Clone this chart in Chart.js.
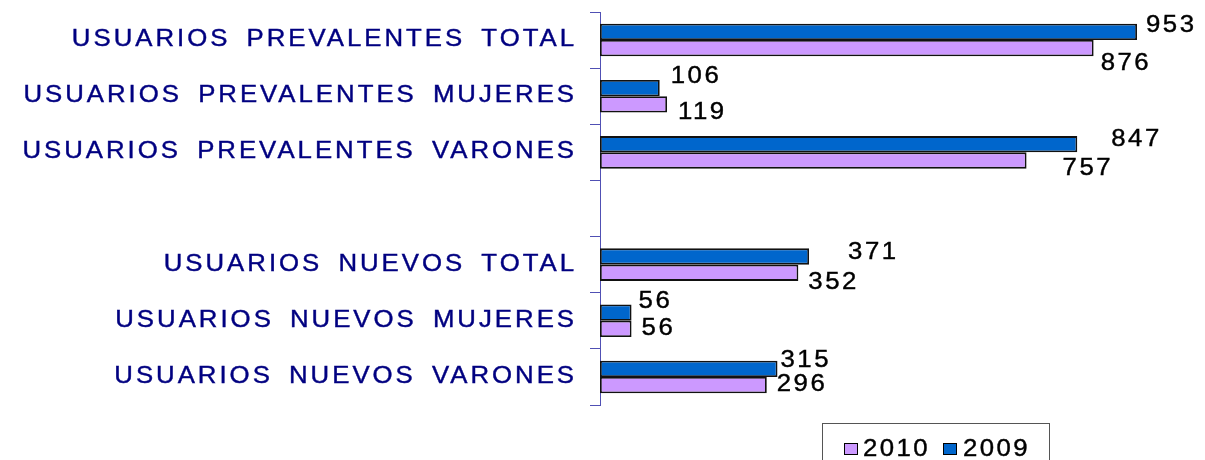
<!DOCTYPE html>
<html>
<head>
<meta charset="utf-8">
<script src="https://cdn.jsdelivr.net/npm/chart.js@4.4.1/dist/chart.umd.min.js"></script>
<style>
  body { margin: 0; background: #fff; }
  #wrap { position: relative; width: 1205px; height: 460px; overflow: hidden; }
  #legend {
    position: absolute; left: 822px; top: 423px; width: 228px; height: 50px;
    border: 1px solid #555; box-sizing: border-box;
    font: 23px "Liberation Sans", Arial, sans-serif; letter-spacing: 2.2px; color: #000;
    -webkit-text-stroke: 0.4px #000;
  }
  #legend .sw { position: absolute; top: 19px; width: 12px; height: 10px; border: 1px solid #000; }
  #legend .txt { position: absolute; top: 11px; line-height: 26px; transform: scaleX(1.12); transform-origin: left center; }
</style>
</head>
<body>
<div id="wrap">
  <canvas id="chart" width="1205" height="460"></canvas>
  <div id="legend">
    <span class="sw" style="left:21px;background:#CC99FF"></span><span class="txt" style="left:40px">2010</span>
    <span class="sw" style="left:120px;background:#0066CC"></span><span class="txt" style="left:140px">2009</span>
  </div>
</div>
<script>
// Data
const categories = [
    "USUARIOS PREVALENTES TOTAL",
    "USUARIOS PREVALENTES MUJERES",
    "USUARIOS PREVALENTES VARONES",
    "",
    "USUARIOS NUEVOS TOTAL",
    "USUARIOS NUEVOS MUJERES",
    "USUARIOS NUEVOS VARONES"
];
const values2009 = [953, 106, 847, null, 371, 56, 315];
const values2010 = [876, 119, 757, null, 352, 56, 296];

// label nudges (style only): dx from bar end, dy from bar centre
const nudge2009 = [[10, -6.5], [12, -11], [35, -5], [0, 0], [40, -4], [8, -10.5], [4, -8.5]];
const nudge2010 = [[8, 15.5], [12, 8], [37, 8], [0, 0], [11, 10], [11, 0], [11, 0]];

const FONT = '23px "Liberation Sans", Arial, sans-serif';
const SX = 1.12;   // the original text is drawn a little wide

// draw text stretched horizontally, x given in screen pixels
function wideText(ctx, text, x, y, align) {
    ctx.save();
    ctx.scale(SX, 1);
    ctx.textAlign = align;
    ctx.fillText(text, x / SX, y);
    ctx.strokeText(text, x / SX, y);
    ctx.restore();
}

const categoryLabels = {
    id: 'categoryLabels',
    afterDraw(chart) {
        const scale = chart.scales.y;
        const ctx = chart.ctx;
        ctx.save();
        ctx.font = FONT;
        ctx.letterSpacing = (3 / SX) + 'px';
        ctx.wordSpacing = (6 / SX) + 'px';
        ctx.fillStyle = '#000080';
        ctx.strokeStyle = '#000080';
        ctx.lineWidth = 0.4;
        ctx.textBaseline = 'alphabetic';
        scale.ticks.forEach((t, i) => {
            const label = categories[i];
            if (!label) return;
            const y = scale.getPixelForTick(i);
            wideText(ctx, label, 577, y + 6, 'right');
        });
        ctx.restore();
    }
};

const valueLabels = {
    id: 'valueLabels',
    afterDatasetsDraw(chart) {
        const ctx = chart.ctx;
        ctx.save();
        ctx.font = FONT;
        ctx.letterSpacing = (2.5 / SX) + 'px';
        ctx.fillStyle = '#000';
        ctx.strokeStyle = '#000';
        ctx.lineWidth = 0.4;
        ctx.textBaseline = 'middle';
        chart.data.datasets.forEach((ds, di) => {
            const meta = chart.getDatasetMeta(di);
            const nudges = di === 0 ? nudge2009 : nudge2010;
            meta.data.forEach((bar, i) => {
                const v = ds.data[i];
                if (v === null || v === undefined) return;
                wideText(ctx, String(v), bar.x + nudges[i][0] - 1, bar.y + nudges[i][1], 'left');
            });
        });
        ctx.restore();
    }
};

document.addEventListener("DOMContentLoaded", function() {
    const ctx = document.getElementById('chart').getContext('2d');
    new Chart(ctx, {
        type: 'bar',
        data: {
            labels: categories,
            datasets: [
                { label: '2009', data: values2009, backgroundColor: '#0066CC', borderColor: '#111', borderWidth: 1.8, borderSkipped: false },
                { label: '2010', data: values2010, backgroundColor: '#CC99FF', borderColor: '#111', borderWidth: 1.8, borderSkipped: false }
            ]
        },
        options: {
            indexAxis: 'y',
            responsive: false,
            animation: false,
            layout: { padding: { top: 12, right: 41.5, bottom: 55, left: 0 } },
            plugins: {
                legend: { display: false },
                tooltip: { enabled: false }
            },
            datasets: { bar: { categoryPercentage: 0.58, barPercentage: 1.0 } },
            scales: {
                x: { display: false, min: 0, max: 1000 },
                y: {
                    afterFit: scale => {
                        scale.width = 600;
                        scale.paddingTop = 0;
                        scale.paddingBottom = 0;
                    },
                    border: { display: true, color: '#5050b4', width: 1 },
                    grid: { offset: true, drawOnChartArea: false, drawTicks: true, tickLength: 10, color: '#5050b4' },
                    ticks: { display: false }
                }
            }
        },
        plugins: [categoryLabels, valueLabels]
    });
});
</script>
</body>
</html>
